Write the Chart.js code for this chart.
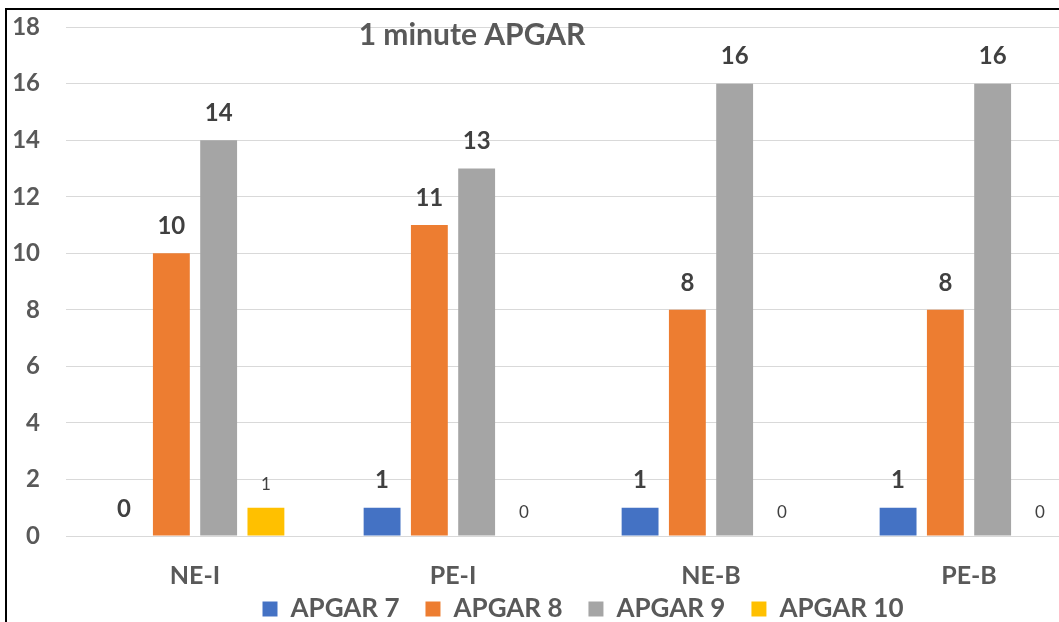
<!DOCTYPE html>
<html>
<head>
<meta charset="utf-8">
<script src="https://cdn.jsdelivr.net/npm/chart.js@4/dist/chart.umd.min.js"></script>
<style>
  html, body { margin: 0; padding: 0; background: #fff; overflow: hidden; width: 1059px; height: 622px; }
  #wrap { position: absolute; left: 0; top: 0; width: 1110px; height: 622px; }
  .frameTop { position: absolute; left: 6px; top: 8px; width: 1060px; height: 2px; background: #000; }
  .frameLeft { position: absolute; left: 5px; top: 8px; width: 2px; height: 620px; background: #000; }
</style>
</head>
<body>
<div id="wrap"><canvas id="c" width="1110" height="622"></canvas></div>
<div class="frameTop"></div>
<div class="frameLeft"></div>
<script>
const categories = ["NE-I", "PE-I", "NE-B", "PE-B"];
const seriesNames = ["APGAR 7", "APGAR 8", "APGAR 9", "APGAR 10"];
const apgar7 = [0, 1, 1, 1];
const apgar8 = [10, 11, 8, 8];
const apgar9 = [14, 13, 16, 16];
const apgar10 = [1, 0, 0, 0];
const yTicksMax = 18;
const yTickStep = 2;
const chartTitle = "1 minute APGAR";

const colors = ["#4472C4", "#ED7D31", "#A5A5A5", "#FFC000"];
const FONT = "Lato, 'Open Sans', sans-serif";
const LEGEND_HEIGHT = 26;
const LEGEND_TOP = 570;
const LEGEND_SHIFT_X = 34;

const legendPlugin = {
  id: 'legendPlace',
  afterInit(chart) {
    const lg = chart.legend;
    if (lg && !lg._patched) {
      const origFit = lg.fit;
      lg.fit = function () { origFit.call(this); this.height = LEGEND_HEIGHT; };
      lg._patched = true;
    }
  },
  afterLayout(chart) {
    const lg = chart.legend;
    if (!lg) return;
    lg.top = LEGEND_TOP;
    lg.bottom = chart.height;
    lg.height = chart.height - LEGEND_TOP;
    lg.left += LEGEND_SHIFT_X;
    lg.right += LEGEND_SHIFT_X;
  }
};

const labelPlugin = {
  id: 'barLabels',
  afterDatasetsDraw(chart) {
    const ctx = chart.ctx;
    ctx.save();
    ctx.textAlign = 'center';
    ctx.textBaseline = 'middle';
    chart.data.datasets.forEach((ds, di) => {
      const meta = chart.getDatasetMeta(di);
      meta.data.forEach((bar, i) => {
        const v = ds.data[i];
        ctx.fillStyle = "#404040";
        if (di === 3) {
          ctx.font = "400 17px " + FONT;
          ctx.fillText(String(v), bar.x, bar.y - 23);
        } else {
          ctx.font = "700 24px " + FONT;
          ctx.fillText(String(v), bar.x, bar.y - 27);
        }
      });
    });
    ctx.font = "700 30px " + FONT;
    ctx.fillStyle = "#595959";
    ctx.fillText(chartTitle, 472, 35);
    ctx.restore();
  }
};

const datasets = [apgar7, apgar8, apgar9, apgar10].map((d, i) => ({
  label: seriesNames[i],
  data: d,
  backgroundColor: colors[i],
  borderWidth: 0,
  categoryPercentage: 0.733,
  barPercentage: 0.78
}));

new Chart(document.getElementById('c'), {
  type: 'bar',
  data: { labels: categories, datasets },
  options: {
    responsive: false,
    devicePixelRatio: 1,
    animation: false,
    layout: { padding: { top: 0, right: 12, left: 0, bottom: 0 } },
    plugins: {
      title: { display: false },
      tooltip: { enabled: false },
      legend: {
        position: 'bottom',
        labels: {
          boxWidth: 15, boxHeight: 15,
          padding: 26,
          color: "#595959",
          font: { family: FONT, size: 26, weight: '700' }
        }
      }
    },
    scales: {
      y: {
        min: 0, max: yTicksMax,
        ticks: { stepSize: yTickStep, padding: 26, color: "#595959", font: { family: FONT, size: 24, weight: '700', lineHeight: 0.1 } },
        grid: { color: "#d9d9d9", lineWidth: 1, drawTicks: false },
        border: { display: false },
        afterFit(s) { s.width = 66; }
      },
      x: {
        ticks: { padding: 25, color: "#595959", font: { family: FONT, size: 25, weight: '700' } },
        grid: { display: false, drawTicks: false },
        border: { color: "#d9d9d9", width: 1 },
        afterFit(s) { s.height = 60; }
      }
    }
  },
  plugins: [legendPlugin, labelPlugin]
});
</script>
</body>
</html>
